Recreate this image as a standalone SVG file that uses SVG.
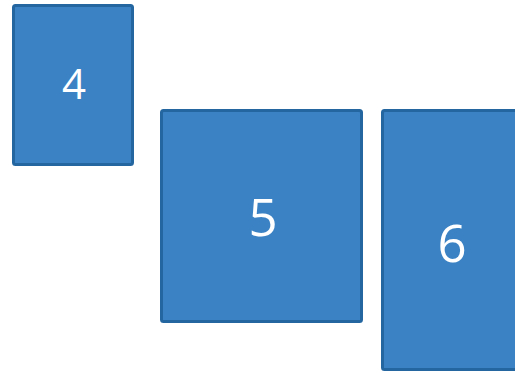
<svg xmlns="http://www.w3.org/2000/svg" width="515" height="373" viewBox="0 0 515 373">
<style>
.box{fill:#3a82c4;stroke:#2466a0;stroke-width:3;rx:2}
.lbl{fill:#ffffff;font-family:"Open Sans","Noto Sans",sans-serif;text-anchor:middle}
</style>
<rect width="515" height="373" fill="#ffffff"/>
<g id="node4">
<rect class="box" x="13.5" y="5.5" width="119" height="159"/>
<text class="lbl" x="74" y="99" font-size="42">4</text>
</g>
<g id="node5">
<rect class="box" x="161.5" y="110.5" width="200" height="211"/>
<text class="lbl" x="263" y="236" font-size="51">5</text>
</g>
<g id="node6">
<rect class="box" x="382.5" y="110.5" width="140" height="259"/>
<text class="lbl" x="452" y="262" font-size="51">6</text>
</g>
<g id="connectors"></g>
</svg>
